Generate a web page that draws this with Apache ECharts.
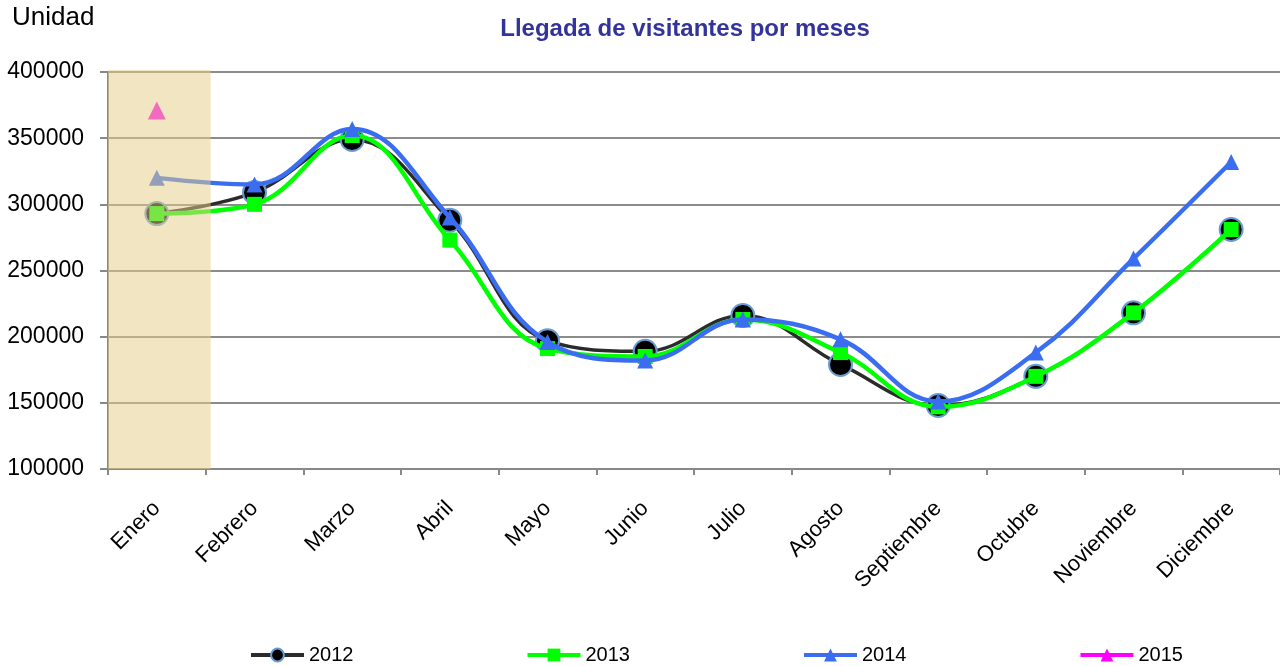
<!DOCTYPE html>
<html>
<head>
<meta charset="utf-8">
<script src="https://cdn.jsdelivr.net/npm/echarts@6/dist/echarts.min.js"></script>
<style>
  html, body { margin: 0; padding: 0; background: #fff; }
  #chart { width: 1280px; height: 666px; }
</style>
</head>
<body>
<div id="chart"></div>
<script>
const months = ['Enero', 'Febrero', 'Marzo', 'Abril', 'Mayo', 'Junio', 'Julio', 'Agosto', 'Septiembre', 'Octubre', 'Noviembre', 'Diciembre'];
const data2012 = [293000, 309000, 349000, 288000, 197000, 189000, 216000, 179000, 148000, 170000, 218000, 281000];
const data2013 = [293000, 300000, 352000, 273000, 191000, 185000, 213000, 188000, 147000, 170000, 218000, 281000];
const data2014 = [320000, 315000, 357000, 290000, 196000, 182000, 213000, 198000, 151000, 188000, 259000, 332000];
const data2015 = [371000, null, null, null, null, null, null, null, null, null, null, null];
const highlightMonth = 'Enero';

const font = 'Liberation Sans, Arial, sans-serif';
const chart = echarts.init(document.getElementById('chart'));

// shaded band drawn over the first month (faded look of the original)
const renderBand = (params, api) => {
  const center = api.coord([api.value(0), 0]);
  const bandW = api.size([1, 0])[0];
  const top = params.coordSys.y;
  const h = params.coordSys.height;
  return {
    type: 'rect',
    shape: { x: center[0] - bandW / 2, y: top - 2, width: bandW + 5, height: h + 2 },
    style: { fill: 'rgba(231, 206, 137, 0.52)' },
    silent: true
  };
};

const option = {
  animation: false,
  textStyle: { fontFamily: font },
  title: {
    text: 'Llegada de visitantes por meses',
    left: 680,
    textAlign: 'center',
    top: 12,
    textStyle: { color: '#333399', fontSize: 24, fontWeight: 'bold', fontFamily: font }
  },
  graphic: [{
    type: 'text',
    left: 12,
    top: 5,
    style: { text: 'Unidad', fill: '#000', font: '26px ' + font }
  }],
  legend: {
    top: 645,
    left: 249,
    padding: 0,
    itemWidth: 53,
    itemHeight: 16,
    itemGap: 172,
    lineStyle: { width: 4 },
    textStyle: { fontSize: 20, color: '#000', fontFamily: font },
    data: ['2012', '2013', '2014', '2015']
  },
  grid: { left: 108, right: 0, top: 72, bottom: 197, containLabel: false },
  xAxis: {
    type: 'category',
    data: months,
    boundaryGap: true,
    axisLine: { lineStyle: { color: '#888', width: 2 } },
    axisTick: { show: true, length: 6, lineStyle: { color: '#888', width: 2 } },
    axisLabel: { rotate: 45, fontSize: 22, color: '#000', margin: 36, fontFamily: font },
    splitLine: { show: false }
  },
  yAxis: {
    type: 'value',
    min: 100000,
    max: 400000,
    interval: 50000,
    axisLine: { show: true, lineStyle: { color: '#888', width: 2 } },
    axisTick: { show: true, length: 8, lineStyle: { color: '#888', width: 2 } },
    axisLabel: { fontSize: 23, color: '#000', margin: 24, fontFamily: font, formatter: (v) => String(v) },
    splitLine: { lineStyle: { color: '#8c8c8c', width: 2 } }
  },
  series: [
    {
      name: '2012',
      type: 'line',
      data: data2012,
      smooth: 0.4,
      symbol: 'circle',
      symbolSize: 23,
      lineStyle: { color: '#2b2b2b', width: 3.5 },
      itemStyle: { color: '#000', borderColor: '#6a9bd1', borderWidth: 2 },
      z: 2
    },
    {
      name: '2013',
      type: 'line',
      data: data2013,
      smooth: 0.4,
      symbol: 'rect',
      symbolSize: 15,
      lineStyle: { color: '#00ff00', width: 4.5 },
      itemStyle: { color: '#00ff00' },
      z: 3
    },
    {
      name: '2014',
      type: 'line',
      data: data2014,
      smooth: 0.4,
      symbol: 'triangle',
      symbolSize: 16,
      lineStyle: { color: '#3a6df0', width: 4.5 },
      itemStyle: { color: '#3a6df0' },
      z: 4
    },
    {
      name: '2015',
      type: 'line',
      data: data2015,
      symbol: 'triangle',
      symbolSize: 18,
      lineStyle: { color: '#ff00ff', width: 4 },
      itemStyle: { color: '#ff00ff' },
      z: 4
    },
    {
      name: 'band',
      type: 'custom',
      data: [[highlightMonth]],
      renderItem: renderBand,
      silent: true,
      z: 10
    }
  ]
};

chart.setOption(option);
</script>
</body>
</html>
